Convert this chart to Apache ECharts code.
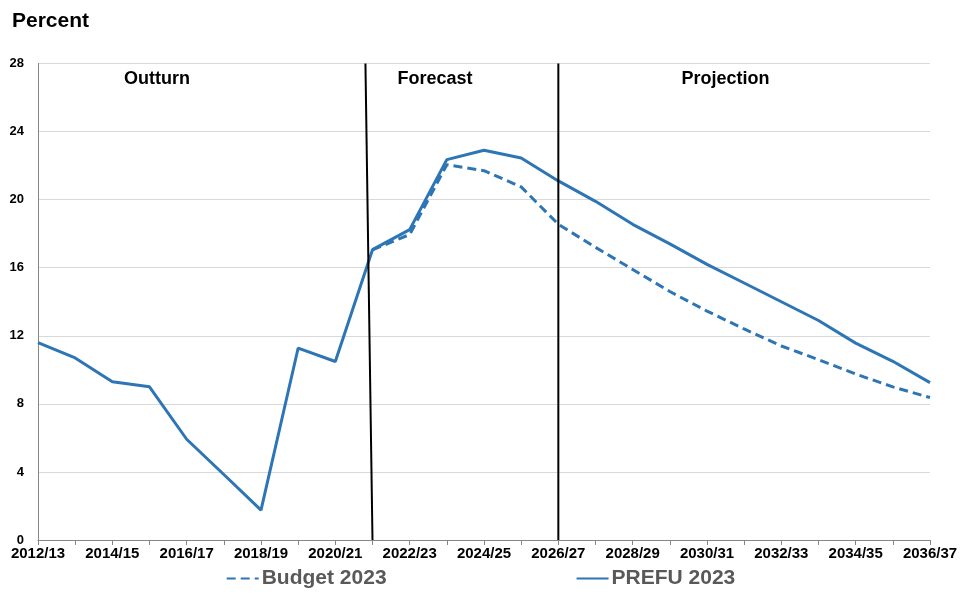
<!DOCTYPE html>
<html>
<head>
<meta charset="utf-8">
<script src="https://cdn.jsdelivr.net/npm/echarts@6/dist/echarts.min.js"></script>
<style>
html,body{margin:0;padding:0;background:#fff;}
#chart{width:961px;height:594px;}
</style>
</head>
<body>
<div id="chart"></div>
<script>
var categories = ['2012/13','2013/14','2014/15','2015/16','2016/17','2017/18','2018/19','2019/20','2020/21','2021/22','2022/23','2023/24','2024/25','2025/26','2026/27','2027/28','2028/29','2029/30','2030/31','2031/32','2032/33','2033/34','2034/35','2035/36','2036/37'];
var budget2023 = [null,null,null,null,null,null,null,null,null,17.05,17.95,22.05,21.7,20.75,18.55,17.2,15.9,14.6,13.45,12.4,11.4,10.6,9.75,9.0,8.37];
var prefu2023 = [11.6,10.7,9.3,9.0,5.92,3.85,1.76,11.28,10.49,17.06,18.24,22.35,22.9,22.45,21.1,19.9,18.55,17.4,16.2,15.1,14.0,12.9,11.57,10.5,9.25];
var yTicks = [0,4,8,12,16,20,24,28];
// period boundaries, in category-index units: [index at top, index at bottom]
var dividers = [[8.81, 9], [14, 14]];
var periodLabels = ['Outturn','Forecast','Projection'];
var periodCenters = [3.2, 10.68, 18.5];

var FONT = '"Liberation Sans", Arial, sans-serif';
var BLUE = '#2E75B6';

var chart = echarts.init(document.getElementById('chart'), null, {renderer:'canvas'});

var series = [
  {name:'Budget 2023', type:'line', data:budget2023, symbol:'none', z:3,
   lineStyle:{color:BLUE, width:3, type:[9,5]}, itemStyle:{color:BLUE}},
  {name:'PREFU 2023', type:'line', data:prefu2023, symbol:'none', z:4,
   lineStyle:{color:BLUE, width:3}, itemStyle:{color:BLUE}}
];
dividers.forEach(function(d){
  series.push({type:'line', xAxisIndex:1, silent:true, symbol:'none', z:5,
    data:[[d[0], yTicks[yTicks.length-1]], [d[1], yTicks[0]]],
    lineStyle:{color:'#000', width:2}});
});
series.push({type:'scatter', xAxisIndex:1, silent:true, symbolSize:0, z:6,
  data: periodCenters.map(function(c, i){ return {value:[c, 27.1], name: periodLabels[i]}; }),
  itemStyle:{color:'#000', opacity:1},
  label:{show:true, position:[0,0], align:'center', verticalAlign:'middle', formatter:'{b}',
         color:'#000', textBorderWidth:0, fontFamily:FONT, fontWeight:'bold', fontSize:18}
});

chart.setOption({
  animation:false,
  backgroundColor:'#fff',
  textStyle:{fontFamily:FONT},
  grid:{left:38, right:31, top:63.5, bottom:54, containLabel:false},
  title:{text:'Percent', left:7, top:6, textStyle:{fontFamily:FONT, fontWeight:'bold', fontSize:21, color:'#000'}},
  legend:{
    data:['Budget 2023','PREFU 2023'],
    bottom:0, left:'center', itemWidth:32, itemHeight:10, itemGap:189,
    itemStyle:{opacity:0},
    textStyle:{fontFamily:FONT, fontWeight:'bold', fontSize:21, color:'#595959', padding:[0,0,0,-2]}
  },
  xAxis:[{
    type:'category', data:categories, boundaryGap:false,
    axisLine:{lineStyle:{color:'#868686', width:1}},
    axisTick:{show:true, interval:0, length:5, lineStyle:{color:'#868686'}},
    axisLabel:{interval:1, margin:6, color:'#000', fontFamily:FONT, fontWeight:'bold', fontSize:15},
    splitLine:{show:false}
  },{
    type:'value', min:0, max:categories.length-1, show:false, splitLine:{show:false}
  }],
  yAxis:{
    type:'value', min:yTicks[0], max:yTicks[yTicks.length-1], interval:4,
    axisLine:{show:true, lineStyle:{color:'#868686', width:1}},
    axisTick:{show:false},
    axisLabel:{margin:14, color:'#000', fontFamily:FONT, fontWeight:'bold', fontSize:13},
    splitLine:{show:true, lineStyle:{color:'#d9d9d9', width:1}}
  },
  series:series
});
</script>
</body>
</html>
